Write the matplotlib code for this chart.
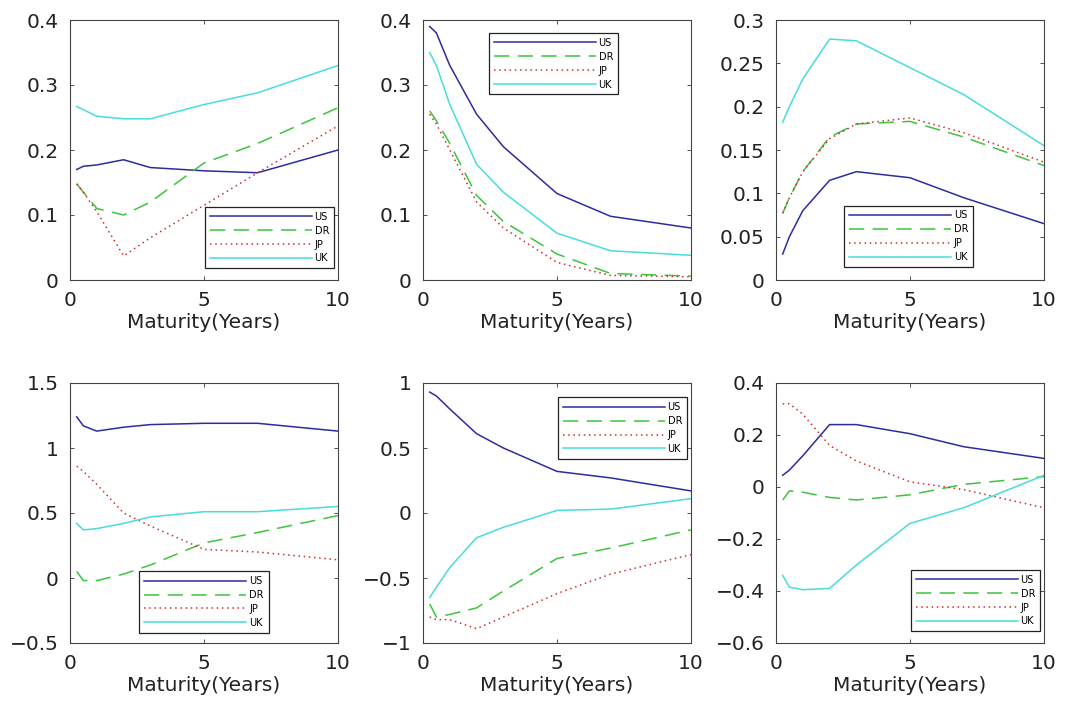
import matplotlib
matplotlib.use("Agg")
import matplotlib.pyplot as plt
from matplotlib.ticker import FuncFormatter

plt.rcParams['font.family'] = ['DejaVu Sans']

maturity = [0.25, 0.5, 1, 2, 3, 5, 7, 10]
series_names = ["US", "DR", "JP", "UK"]

# Panel 1
p1_us = [0.170, 0.175, 0.177, 0.185, 0.173, 0.168, 0.165, 0.200]
p1_dr = [0.148, 0.135, 0.110, 0.100, 0.120, 0.180, 0.210, 0.265]
p1_jp = [0.148, 0.135, 0.105, 0.037, 0.065, 0.115, 0.165, 0.237]
p1_uk = [0.267, 0.262, 0.252, 0.248, 0.248, 0.270, 0.288, 0.330]
# Panel 2
p2_us = [0.390, 0.380, 0.330, 0.255, 0.205, 0.133, 0.098, 0.080]
p2_dr = [0.260, 0.245, 0.210, 0.130, 0.090, 0.040, 0.010, 0.006]
p2_jp = [0.255, 0.240, 0.200, 0.120, 0.080, 0.027, 0.007, 0.005]
p2_uk = [0.350, 0.330, 0.270, 0.178, 0.135, 0.072, 0.045, 0.038]
# Panel 3
p3_us = [0.030, 0.050, 0.080, 0.115, 0.125, 0.118, 0.095, 0.065]
p3_dr = [0.077, 0.095, 0.125, 0.165, 0.180, 0.183, 0.165, 0.132]
p3_jp = [0.077, 0.095, 0.125, 0.163, 0.180, 0.187, 0.170, 0.136]
p3_uk = [0.182, 0.200, 0.232, 0.278, 0.276, 0.245, 0.214, 0.155]
# Panel 4
p4_us = [1.24, 1.17, 1.13, 1.16, 1.18, 1.19, 1.19, 1.13]
p4_dr = [0.05, -0.02, -0.02, 0.03, 0.10, 0.27, 0.35, 0.48]
p4_jp = [0.86, 0.82, 0.72, 0.50, 0.40, 0.22, 0.20, 0.14]
p4_uk = [0.42, 0.37, 0.38, 0.42, 0.47, 0.51, 0.51, 0.55]
# Panel 5
p5_us = [0.93, 0.90, 0.80, 0.61, 0.50, 0.32, 0.27, 0.17]
p5_dr = [-0.70, -0.80, -0.78, -0.73, -0.60, -0.35, -0.27, -0.13]
p5_jp = [-0.80, -0.82, -0.82, -0.89, -0.80, -0.62, -0.47, -0.32]
p5_uk = [-0.65, -0.57, -0.42, -0.19, -0.11, 0.02, 0.03, 0.11]
# Panel 6
p6_us = [0.045, 0.065, 0.120, 0.240, 0.240, 0.205, 0.155, 0.110]
p6_dr = [-0.050, -0.015, -0.020, -0.040, -0.050, -0.030, 0.010, 0.040]
p6_jp = [0.320, 0.320, 0.280, 0.160, 0.100, 0.020, -0.010, -0.080]
p6_uk = [-0.340, -0.385, -0.395, -0.390, -0.300, -0.140, -0.080, 0.045]

panels = [
    (p1_us, p1_dr, p1_jp, p1_uk),
    (p2_us, p2_dr, p2_jp, p2_uk),
    (p3_us, p3_dr, p3_jp, p3_uk),
    (p4_us, p4_dr, p4_jp, p4_uk),
    (p5_us, p5_dr, p5_jp, p5_uk),
    (p6_us, p6_dr, p6_jp, p6_uk),
]
ylims = [(0, 0.4), (0, 0.4), (0, 0.3), (-0.5, 1.5), (-1, 1), (-0.6, 0.4)]
yticks = [
    [0, 0.1, 0.2, 0.3, 0.4],
    [0, 0.1, 0.2, 0.3, 0.4],
    [0, 0.05, 0.1, 0.15, 0.2, 0.25, 0.3],
    [-0.5, 0, 0.5, 1, 1.5],
    [-1, -0.5, 0, 0.5, 1],
    [-0.6, -0.4, -0.2, 0, 0.2, 0.4],
]
# legend placement: (loc, bbox_to_anchor) in axes fraction
legend_pos = [
    ("lower right", (0.985, 0.045)),
    ("upper left", (0.245, 0.95)),
    ("lower center", (0.495, 0.05)),
    ("lower center", (0.5, 0.04)),
    ("upper right", (0.985, 0.945)),
    ("lower right", (0.985, 0.045)),
]

colors = ["#2c2ca0", "#3cc43c", "#cc3030", "#48dcdc"]
styles = [dict(linestyle="-"), dict(dashes=(10, 5.5)), dict(dashes=(1, 2.4)), dict(linestyle="-")]

W, H = 1068, 705
fig = plt.figure(figsize=(W / 100, H / 100), dpi=100)

col_left = [70, 423, 776]
ax_w = 268
row_top = [20, 383]
ax_h = 260

fmt = FuncFormatter(lambda v, p: ("%g" % v).replace("-", "\u2212"))

for i, data in enumerate(panels):
    r, c = divmod(i, 3)
    left = col_left[c] / W
    bottom = 1 - (row_top[r] + ax_h) / H
    ax = fig.add_axes([left, bottom, ax_w / W, ax_h / H])
    for name, vals, col, st in zip(series_names, data, colors, styles):
        ax.plot(maturity, vals, color=col, lw=1.1, label=name, **st)
    ax.set_xlim(0, 10)
    ax.set_ylim(*ylims[i])
    ax.set_xticks([0, 5, 10])
    ax.set_yticks(yticks[i])
    ax.yaxis.set_major_formatter(fmt)
    ax.xaxis.set_major_formatter(fmt)
    ax.tick_params(direction="in", top=True, right=True, labelsize=14.5,
                   length=3, width=0.6, colors="#333333", labelcolor="#222222", pad=8)
    for sp in ax.spines.values():
        sp.set_color("#444444")
        sp.set_linewidth(0.8)
    ax.set_xlabel("Maturity(Years)", fontsize=14.5, color="#222222", labelpad=2)
    loc, anchor = legend_pos[i]
    leg = ax.legend(loc=loc, bbox_to_anchor=anchor, fontsize=7, handlelength=10.5,
                    handletextpad=0.3, labelspacing=0.4, borderpad=0.5,
                    fancybox=False, framealpha=1, edgecolor="#222222",
                    borderaxespad=0)
    leg.get_frame().set_linewidth(0.9)

fig.savefig("out.png", dpi=100)
